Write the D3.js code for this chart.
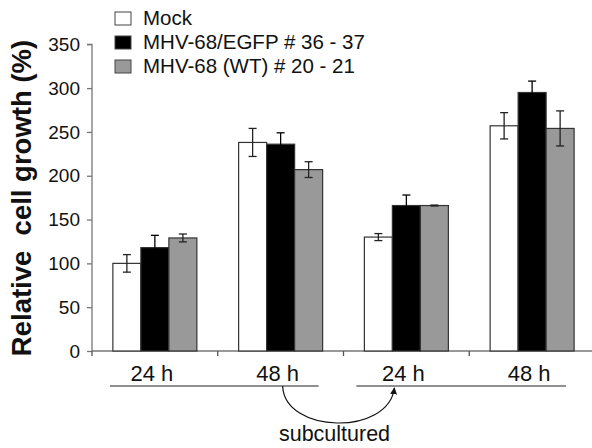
<!DOCTYPE html>
<html>
<head>
<meta charset="utf-8">
<script src="https://cdn.jsdelivr.net/npm/d3@7"></script>
<style>
  body { margin: 0; background: #fff; }
  text { font-family: "Liberation Sans", Arial, sans-serif; fill: #111; }
</style>
</head>
<body>
<div id="chart"></div>
<script>
// Data
var timepoints = ["24 h", "48 h", "24 h", "48 h"];
var seriesNames = ["Mock", "MHV-68/EGFP # 36 - 37", "MHV-68 (WT) # 20 - 21"];
var mockValues = [100, 238, 130, 257];
var mockErrors = [10, 16, 4, 15];
var egfpValues = [118, 236, 166, 295];
var egfpErrors = [14, 13, 12, 13];
var wtValues = [129, 207, 166, 254];
var wtErrors = [4.5, 9, 0.5, 20];
var yTicks = [0, 50, 100, 150, 200, 250, 300, 350];

var colors = ["#ffffff", "#000000", "#999999"];

var width = 592, height = 448;
var svg = d3.select("#chart").append("svg")
	.attr("width", width)
	.attr("height", height);

// Scales
var x0 = d3.scaleBand()
	.domain(d3.range(timepoints.length))
	.range([92, 595])
	.paddingInner(0.332)
	.paddingOuter(0.166);
var x1 = d3.scaleBand()
	.domain(d3.range(seriesNames.length))
	.range([0, x0.bandwidth()]);
var y = d3.scaleLinear().domain([0, 350]).range([351, 44.3]);

var values = [mockValues, egfpValues, wtValues];
var errors = [mockErrors, egfpErrors, wtErrors];

// Y axis
var yAxis = svg.append("g")
	.attr("transform", "translate(92,0)")
	.call(d3.axisLeft(y).tickValues(yTicks).tickSize(5).tickPadding(7));
yAxis.selectAll("text").style("font-size", "19px").attr("fill", "#111");
yAxis.selectAll("line, path").attr("stroke", "#777").attr("stroke-width", 1.3);
yAxis.select(".domain").attr("d", "M-5," + y(350) + "H0V" + y(0));

// X axis line with category dividers
var xg = svg.append("g");
xg.append("line")
	.attr("x1", 92).attr("x2", 595)
	.attr("y1", y(0)).attr("y2", y(0))
	.attr("stroke", "#777").attr("stroke-width", 1.3);
xg.selectAll(".div")
	.data(d3.range(timepoints.length))
	.enter().append("line")
	.attr("x1", function(d) { return x0(d) - x0.step() * x0.paddingInner() / 2; })
	.attr("x2", function(d) { return x0(d) - x0.step() * x0.paddingInner() / 2; })
	.attr("y1", y(0)).attr("y2", y(0) + 5)
	.attr("stroke", "#555").attr("stroke-width", 1.3);

// Bars
var groups = svg.selectAll(".grp")
	.data(d3.range(timepoints.length))
	.enter().append("g")
	.attr("transform", function(i) { return "translate(" + x0(i) + ",0)"; });

seriesNames.forEach(function(name, s) {
	groups.append("rect")
		.attr("x", x1(s))
		.attr("width", x1.bandwidth())
		.attr("y", function(i) { return y(values[s][i]); })
		.attr("height", function(i) { return y(0) - y(values[s][i]); })
		.attr("fill", colors[s])
		.attr("stroke", "#333")
		.attr("stroke-width", 1.2);
});

// Error bars
seriesNames.forEach(function(name, s) {
	var cx = x1(s) + x1.bandwidth() / 2;
	var eb = groups.append("g").attr("stroke", s === 1 ? "#000" : "#222").attr("stroke-width", 1.3);
	eb.append("line")
		.attr("x1", cx).attr("x2", cx)
		.attr("y1", function(i) { return y(values[s][i] + errors[s][i]); })
		.attr("y2", function(i) { return y(values[s][i] - errors[s][i]); });
	[1, -1].forEach(function(sign) {
		eb.append("line")
			.attr("x1", cx - 4).attr("x2", cx + 4)
			.attr("y1", function(i) { return y(values[s][i] + sign * errors[s][i]); })
			.attr("y2", function(i) { return y(values[s][i] + sign * errors[s][i]); });
	});
});

// Category labels
svg.selectAll(".cat")
	.data(timepoints)
	.enter().append("text")
	.attr("x", function(d, i) { return x0(i) + x0.bandwidth() / 2 - 3; })
	.attr("y", 381)
	.attr("text-anchor", "middle")
	.style("font-size", "22px")
	.text(function(d) { return d; });

// Underlines for the two culture periods
var periods = [[0, 1], [2, 3]];
svg.selectAll(".period")
	.data(periods)
	.enter().append("line")
	.attr("x1", function(p, k) { return x0(p[0]) - (k === 0 ? 3 : 8); })
	.attr("x2", function(p, k) { return x0(p[1]) + x0.bandwidth() - (k === 0 ? 4 : 8); })
	.attr("y1", 386).attr("y2", 386)
	.attr("stroke", "#222").attr("stroke-width", 1.2);

// Subculture arrow
var ax0 = x0(1) + x0.bandwidth() / 2 + 2, ax1 = x0(2) + x0.bandwidth() / 2 - 12;
svg.append("defs").append("marker")
	.attr("id", "head")
	.attr("viewBox", "0 0 10 10")
	.attr("refX", 9).attr("refY", 5)
	.attr("markerWidth", 7).attr("markerHeight", 8)
	.attr("markerUnits", "userSpaceOnUse")
	.attr("orient", "auto")
	.append("path").attr("d", "M0,0L10,5L0,10Z").attr("fill", "#111");
svg.append("path")
	.attr("d", "M" + ax0 + ",386 C" + (ax0 + 2) + ",434 " + (ax1 - 6) + ",436 " + ax1 + ",388")
	.attr("fill", "none")
	.attr("stroke", "#111")
	.attr("stroke-width", 1.2)
	.attr("marker-end", "url(#head)");
svg.append("text")
	.attr("x", (ax0 + ax1) / 2 - 4)
	.attr("y", 441)
	.attr("text-anchor", "middle")
	.style("font-size", "21.5px")
	.text("subcultured");

// Y axis title
svg.append("text")
	.attr("transform", "translate(31,198) rotate(-90)")
	.attr("text-anchor", "middle")
	.style("font-size", "27.5px")
	.style("font-weight", "bold")
	.style("white-space", "pre")
	.text("Relative  cell growth (%)");

// Legend
var legend = svg.selectAll(".legend")
	.data(seriesNames)
	.enter().append("g")
	.attr("transform", function(d, i) { return "translate(115," + (12 + i * 24) + ")"; });
legend.append("rect")
	.attr("width", 16).attr("height", 13)
	.attr("fill", function(d, i) { return colors[i]; })
	.attr("stroke", "#444").attr("stroke-width", 1);
legend.append("text")
	.attr("x", 28).attr("y", 12.5)
	.style("font-size", "20.5px")
	.text(function(d) { return d; });
</script>
</body>
</html>
